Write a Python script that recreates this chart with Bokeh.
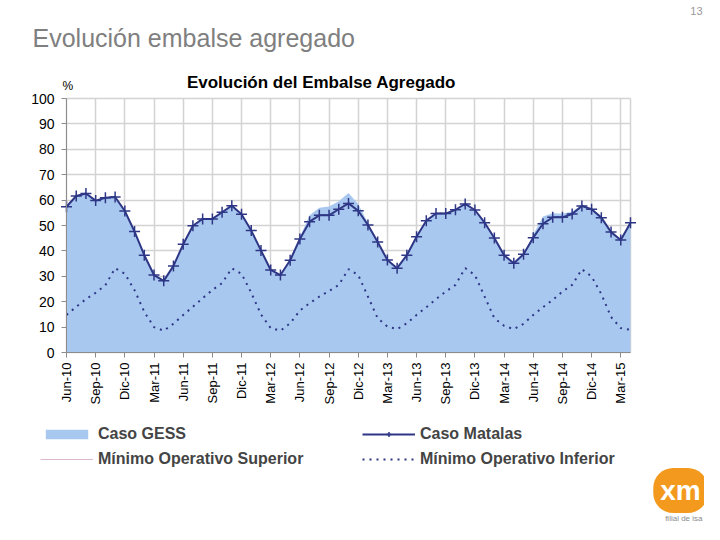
import math
from bokeh.plotting import figure
from bokeh.models import Legend, LegendItem, Label, FixedTicker, Range1d
from bokeh.embed import file_html
from bokeh.resources import INLINE

# ---- data (monthly, Jun-10 .. Apr-15) ----
month_index = list(range(59))
tick_labels = ["Jun-10", "Sep-10", "Dic-10", "Mar-11", "Jun-11", "Sep-11", "Dic-11",
               "Mar-12", "Jun-12", "Sep-12", "Dic-12", "Mar-13", "Jun-13", "Sep-13",
               "Dic-13", "Mar-14", "Jun-14", "Sep-14", "Dic-14", "Mar-15"]

caso_matalas = [57.4, 61.6, 62.6, 59.8, 60.9, 61.2, 55.7,
                47.6, 38.3, 30.5, 28.2, 34.1, 42.6, 49.9, 52.6, 52.6, 55.2, 57.8, 54.4,
                48.0, 40.2, 32.5, 30.5, 36.3, 44.7, 51.5, 54.0, 54.0, 56.4, 58.7, 55.8,
                50.2, 43.5, 36.4, 33.2, 38.3, 45.6, 51.9, 54.7, 54.7, 56.2, 58.5, 56.1,
                51.1, 45.1, 38.3, 35.1, 38.7, 45.2, 50.7, 53.2, 53.2, 54.5, 57.7, 56.4,
                53.1, 47.4, 44.3, 51.1]

caso_gess = [57.4, 61.6, 62.6, 59.8, 60.9, 61.2, 55.7,
             47.6, 38.3, 30.5, 28.2, 34.1, 42.6, 49.9, 52.6, 52.6, 55.2, 57.8, 54.4,
             48.0, 40.2, 32.5, 30.5, 36.3, 45.5, 54.0, 57.0, 57.5, 59.5, 62.8, 58.5,
             51.0, 43.5, 36.4, 33.2, 38.3, 45.6, 51.9, 54.7, 54.7, 56.2, 58.5, 56.1,
             51.1, 45.1, 38.3, 35.1, 38.7, 46.5, 53.5, 54.8, 54.6, 55.5, 58.2, 56.4,
             53.1, 47.4, 44.3, 51.1]

min_op_inferior = [14.8, 18.0, 21.0, 23.5, 26.5, 33.2, 31.0,
                   24.5, 16.0, 10.0, 8.6, 11.3, 14.8, 18.0, 21.4, 24.6, 27.3, 33.2, 31.0,
                   23.5, 15.0, 9.6, 8.6, 11.5, 16.5, 19.4, 22.0, 24.2, 26.6, 32.8, 30.5,
                   22.0, 13.5, 10.2, 9.2, 11.5, 14.8, 17.8, 21.0, 24.0, 26.6, 33.2, 30.5,
                   22.0, 13.5, 10.5, 9.2, 11.3, 14.8, 17.8, 20.7, 24.0, 26.6, 32.8, 29.9,
                   23.0, 14.0, 9.6, 8.9]

# "Mínimo Operativo Superior" has no visible values in the chart (legend only)
min_op_superior_x = [float("nan")]
min_op_superior = [float("nan")]

FONT = "Liberation Sans"
AREA = "#a9c8ef"
NAVY = "#2e3786"

# page geometry: the plotting area (0..58 months, 0..100 %) sits inside a
# full-page frame; axes are pinned at x=0 / y=0.
W, H = 704, 524
PLOT_L, PLOT_R, PLOT_T, PLOT_B = 66, 630, 98, 352
X_END, Y_MAX = 58, 100
xs = X_END / (PLOT_R - PLOT_L)
ys = Y_MAX / (PLOT_B - PLOT_T)
x_range = Range1d(-PLOT_L * xs, X_END + (W - PLOT_R) * xs)
y_range = Range1d(-(H - PLOT_B) * ys, Y_MAX + PLOT_T * ys)

p = figure(width=W, height=H, output_backend="svg", toolbar_location=None,
           title=None, x_range=x_range, y_range=y_range,
           min_border=0, min_border_left=0, min_border_right=0,
           min_border_top=0, min_border_bottom=0)
p.background_fill_color = "white"
p.border_fill_color = "white"
p.outline_line_color = None

r_gess = p.varea(x=month_index, y1=0, y2=caso_gess, fill_color=AREA)
r_inf = p.line(x=month_index, y=min_op_inferior, line_color=NAVY, line_width=2,
               line_dash="2 5")
r_sup = p.line(x=min_op_superior_x, y=min_op_superior, line_color="#d9b9cb",
               line_width=1.2)
r_mat_l = p.line(x=month_index, y=caso_matalas, line_color=NAVY, line_width=2)
r_mat_m = p.scatter(x=month_index, y=caso_matalas, marker="cross", size=11,
                    line_color=NAVY, line_width=1.5)

# axes, pinned to the data origin
xticks = list(range(0, 59, 3))
yticks = list(range(0, 101, 10))
p.xaxis.fixed_location = 0
p.yaxis.fixed_location = 0
p.xaxis.bounds = (0, X_END)
p.yaxis.bounds = (0, Y_MAX)
p.xaxis.ticker = FixedTicker(ticks=xticks)
p.xaxis.major_label_overrides = {t: lab for t, lab in zip(xticks, tick_labels)}
p.xaxis.major_label_orientation = math.pi / 2
p.yaxis.ticker = FixedTicker(ticks=yticks)
for ax in (p.xaxis, p.yaxis):
    ax.axis_line_color = "#8c8c8c"
    ax.major_tick_line_color = "#8c8c8c"
    ax.minor_tick_line_color = None
    ax.major_tick_in = 0
    ax.major_tick_out = 5
    ax.major_label_text_font = FONT
    ax.major_label_text_color = "#000000"
p.xaxis.major_label_text_font_size = "13px"
p.yaxis.major_label_text_font_size = "14px"
p.xaxis.major_label_standoff = 5
p.yaxis.major_label_standoff = 7

p.xgrid.ticker = FixedTicker(ticks=xticks + [X_END])
p.xgrid.cross_bounds = (0, Y_MAX)
p.ygrid.ticker = FixedTicker(ticks=yticks)
p.ygrid.cross_bounds = (0, X_END)
p.grid.grid_line_color = "#d3d3d3"
p.grid.grid_line_width = 1.5

# legend (filled column-first); location = bottom-left in pixels from page bottom-left
legend = Legend(items=[
    LegendItem(label="Caso GESS", renderers=[r_gess]),
    LegendItem(label="Mínimo Operativo Superior", renderers=[r_sup]),
    LegendItem(label="Caso Matalas", renderers=[r_mat_l, r_mat_m]),
    LegendItem(label="Mínimo Operativo Inferior", renderers=[r_inf]),
], ncols=2, location=(40, 55))
legend.label_text_font = FONT
legend.label_text_font_style = "bold"
legend.label_text_font_size = "16px"
legend.label_width = 259
legend.label_height = 20
legend.glyph_width = 53
legend.glyph_height = 12
legend.spacing = 5
legend.padding = 0
legend.margin = 0
legend.border_line_color = None
legend.background_fill_alpha = 0
p.add_layout(legend)

def page_label(x, y, text, **kw):
    # x, y in page pixels measured from the frame's bottom-left
    p.add_layout(Label(x=x, y=y, x_units="screen", y_units="screen", text=text,
                       text_font=FONT, text_baseline="middle", **kw))

page_label(32, 487, "Evolución embalse agregado", text_font_size="25px",
           text_color="#7f7f7f")
page_label(702, 514, "13", text_font_size="11px", text_color="#9a9a9a",
           text_align="right")
page_label(321, 442, "Evolución del Embalse Agregado", text_font_size="17px",
           text_font_style="bold", text_color="#000000", text_align="center")
page_label(62, 439, "%", text_font_size="12px", text_color="#000000")
page_label(680, 34, "xm", text_font_size="28px", text_font_style="bold",
           text_color="white", background_fill_color="#f39a1e", padding=7,
           border_radius=20, text_align="center")
page_label(702, 6, "filial de isa", text_font_size="8px", text_color="#8a8a8a",
           text_align="right")

open("out.html", "w").write(file_html(p, INLINE))
